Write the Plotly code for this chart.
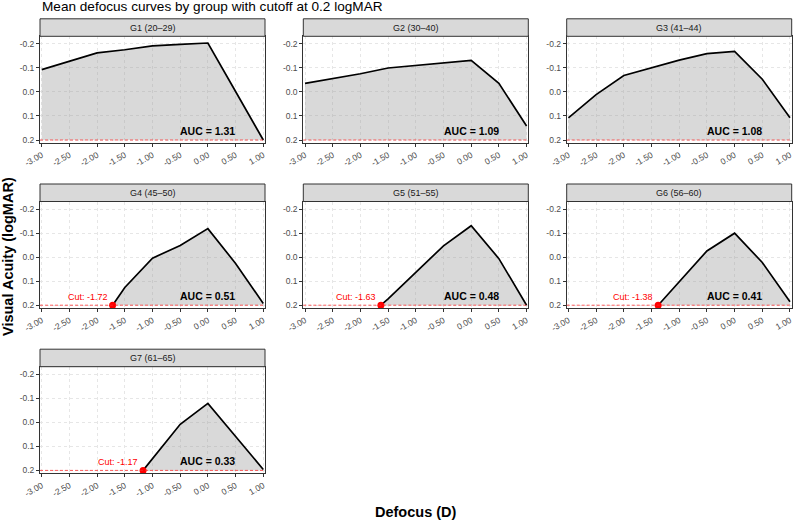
import plotly.graph_objects as go

# ---------------- data ----------------
defocus = [-3.0, -2.5, -2.0, -1.5, -1.0, -0.5, 0.0, 0.5, 1.0]
x_tick_vals = [-3.0, -2.5, -2.0, -1.5, -1.0, -0.5, 0.0, 0.5, 1.0]
x_tick_text = ["-3.00", "-2.50", "-2.00", "-1.50", "-1.00", "-0.50", "0.00", "0.50", "1.00"]
y_tick_vals = [-0.2, -0.1, 0.0, 0.1, 0.2]
y_tick_text = ["-0.2", "-0.1", "0.0", "0.1", "0.2"]

group_labels = ["G1 (20–29)", "G2 (30–40)", "G3 (41–44)", "G4 (45–50)",
                "G5 (51–55)", "G6 (56–60)", "G7 (61–65)"]

# mean logMAR at each defocus (None = worse than cutoff, not drawn)
va_g1 = [-0.093, -0.128, -0.163, -0.176, -0.192, -0.198, -0.204, -0.002, 0.200]
va_g2 = [-0.036, -0.056, -0.076, -0.100, -0.110, -0.121, -0.132, -0.036, 0.142]
va_g3 = [0.108, 0.011, -0.069, -0.100, -0.133, -0.160, -0.169, -0.053, 0.107]
va_g4 = [None, None, None, 0.126, 0.004, -0.049, -0.119, 0.026, 0.193]
va_g5 = [None, None, None, 0.174, 0.063, -0.047, -0.131, 0.006, 0.200]
va_g6 = [None, None, None, None, 0.103, -0.026, -0.100, 0.022, 0.186]
va_g7 = [None, None, None, None, 0.151, 0.008, -0.079, 0.058, 0.196]
va_all = [va_g1, va_g2, va_g3, va_g4, va_g5, va_g6, va_g7]

cut_points = [None, None, None, -1.72, -1.63, -1.38, -1.17]
auc_values = [1.31, 1.09, 1.08, 0.51, 0.48, 0.41, 0.33]
cutoff = 0.2

# ---------------- layout geometry ----------------
W, H = 793, 520
col_left = [40.0, 303.3, 566.7]
row_top = [36.3, 201.5, 366.7]
panel_w = 225.0
panel_h = 106.7
strip_h = 17.5
FONT = "Liberation Sans, Arial, sans-serif"

fig = go.Figure()
shapes = []
annotations = []

for i, (lab, va) in enumerate(zip(group_labels, va_all)):
    r, c = divmod(i, 3)
    n = i + 1
    xa = "x" if n == 1 else f"x{n}"
    ya = "y" if n == 1 else f"y{n}"
    xkey = "xaxis" if n == 1 else f"xaxis{n}"
    ykey = "yaxis" if n == 1 else f"yaxis{n}"

    L = col_left[c]
    T = row_top[r]
    xd = [L / W, (L + panel_w) / W]
    yd = [1 - (T + panel_h) / H, 1 - T / H]

    xs = [d for d, v in zip(defocus, va) if v is not None]
    ys = [v for v in va if v is not None]
    if cut_points[i] is not None:
        xs = [cut_points[i]] + xs
        ys = [cutoff] + ys

    # filled area between curve and cutoff
    fig.add_trace(go.Scatter(
        x=xs + [xs[-1], xs[0]], y=ys + [cutoff, cutoff],
        fill="toself", fillcolor="rgba(150,150,150,0.36)",
        line=dict(width=0), mode="lines", hoverinfo="skip",
        showlegend=False, xaxis=xa, yaxis=ya))
    # curve
    fig.add_trace(go.Scatter(
        x=xs, y=ys, mode="lines", line=dict(color="black", width=1.7),
        showlegend=False, xaxis=xa, yaxis=ya))
    # cut point
    if cut_points[i] is not None:
        fig.add_trace(go.Scatter(
            x=[cut_points[i]], y=[cutoff], mode="markers",
            marker=dict(color="#FF0000", size=7),
            showlegend=False, xaxis=xa, yaxis=ya))
        annotations.append(dict(
            x=cut_points[i], y=cutoff, xref=xa, yref=ya,
            text=f"Cut: {cut_points[i]:.2f}", showarrow=False,
            xanchor="right", yanchor="middle", xshift=-3, yshift=8,
            font=dict(family=FONT, size=9, color="#FF0000")))

    # cutoff line
    shapes.append(dict(type="line", xref=f"{xa} domain", yref=ya,
                       x0=0, x1=1, y0=cutoff, y1=cutoff,
                       line=dict(color="rgba(255,40,40,0.75)", width=1, dash="3px,2px")))

    # AUC label
    annotations.append(dict(
        x=0.0, y=cutoff, xref=xa, yref=ya, text=f"<b>AUC = {auc_values[i]:.2f}</b>",
        showarrow=False, xanchor="center", yanchor="middle", yshift=9,
        font=dict(family=FONT, size=10.5, color="black")))

    # strip
    s_top = T - strip_h
    shapes.append(dict(type="rect", xref="paper", yref="paper",
                       x0=L / W, x1=(L + panel_w) / W,
                       y0=1 - T / H, y1=1 - s_top / H,
                       fillcolor="#D9D9D9", line=dict(color="#333333", width=1),
                       layer="above"))
    annotations.append(dict(
        x=(L + panel_w / 2) / W, y=1 - (T - strip_h / 2) / H,
        xref="paper", yref="paper", text=lab, showarrow=False,
        xanchor="center", yanchor="middle",
        font=dict(family=FONT, size=9, color="#1A1A1A")))

    axis_common = dict(showline=True, mirror=True, linecolor="#333333", linewidth=1,
                       ticks="outside", ticklen=3, tickcolor="#333333", tickwidth=1,
                       showgrid=True, gridcolor="#E6E6E6", gridwidth=1, griddash="3px,3px",
                       zeroline=False, automargin=False, ticklabeloverflow="allow",
                       tickfont=dict(family=FONT, size=8.5, color="#4D4D4D"))
    fig.update_layout(**{
        xkey: dict(domain=xd, anchor=ya, range=[-3.031, 1.031],
                   tickmode="array", tickvals=x_tick_vals, ticktext=x_tick_text,
                   tickangle=-30, **axis_common),
        ykey: dict(domain=yd, anchor=xa, range=[0.2125, -0.232],
                   tickmode="array", tickvals=y_tick_vals, ticktext=y_tick_text,
                   **axis_common),
    })

# title and axis titles
annotations.append(dict(x=40 / W, y=1 - 7 / H, xref="paper", yref="paper",
                        text="Mean defocus curves by group with cutoff at 0.2 logMAR",
                        showarrow=False, xanchor="left", yanchor="middle",
                        font=dict(family=FONT, size=13.6, color="black")))
annotations.append(dict(x=416 / W, y=1 - 511.5 / H, xref="paper", yref="paper",
                        text="<b>Defocus (D)</b>", showarrow=False,
                        xanchor="center", yanchor="middle",
                        font=dict(family=FONT, size=14.5, color="black")))
annotations.append(dict(x=8 / W, y=1 - 257 / H, xref="paper", yref="paper",
                        text="<b>Visual Acuity (logMAR)</b>", showarrow=False,
                        textangle=-90, xanchor="center", yanchor="middle",
                        font=dict(family=FONT, size=14.5, color="black")))

fig.update_layout(width=W, height=H, margin=dict(l=0, r=0, t=0, b=0),
                  plot_bgcolor="white", paper_bgcolor="white",
                  shapes=shapes, annotations=annotations, showlegend=False)

fig.write_html("out.html")
